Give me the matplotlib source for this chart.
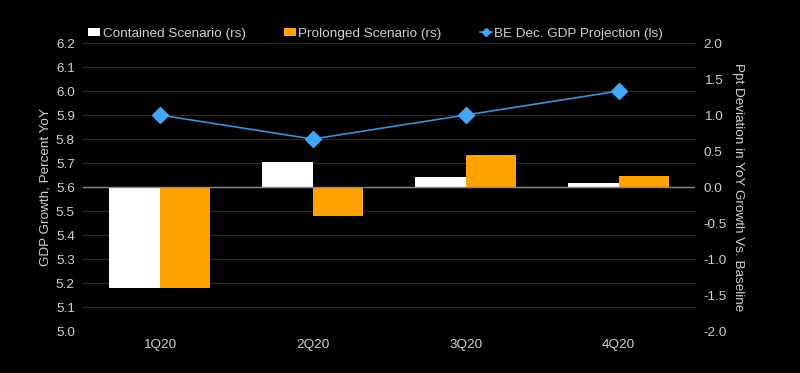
import matplotlib
matplotlib.use("Agg")
import matplotlib.pyplot as plt
import numpy as np
from matplotlib.lines import Line2D
from matplotlib.patches import Patch

plt.rcParams["font.family"] = ["Liberation Sans", "DejaVu Sans"]

quarters = ["1Q20", "2Q20", "3Q20", "4Q20"]
contained = [-1.40, 0.35, 0.14, 0.06]
prolonged = [-1.40, -0.40, 0.44, 0.15]
projection = [5.9, 5.8, 5.9, 6.0]

left_ticks = [5.0, 5.1, 5.2, 5.3, 5.4, 5.5, 5.6, 5.7, 5.8, 5.9, 6.0, 6.1, 6.2]
right_ticks = [-2.0, -1.5, -1.0, -0.5, 0.0, 0.5, 1.0, 1.5, 2.0]

bg = "#000000"
text_color = "#cfcfcf"
grid_color = "#2a2a2a"
orange = "#ffa200"
blue_marker = "#42a5f5"
blue_line = "#3d8fd6"

fig = plt.figure(figsize=(8, 3.73), dpi=100, facecolor=bg)
ax = fig.add_axes([0.104, 0.1126, 0.765, 0.772])
ax2 = ax.twinx()
ax.set_facecolor(bg)

x = np.arange(len(quarters))
width = 0.33

# bars on the right axis
ax2.bar(x - width / 2, contained, width, color="white", zorder=2)
ax2.bar(x + width / 2, prolonged, width, color=orange, zorder=2)
ax2.axhline(0, color="#8a8a8a", lw=1.0, zorder=3)
ax2.set_ylim(-2.0, 2.0)
ax2.set_yticks(right_ticks)
ax2.set_yticklabels([f"{t:.1f}" for t in right_ticks])

# line on the left axis, drawn above the bars
ax.set_zorder(ax2.get_zorder() + 1)
ax.patch.set_visible(False)
ax.plot(x, projection, color=blue_line, lw=1.2, marker="D", markersize=8,
        markerfacecolor=blue_marker, markeredgecolor=blue_marker, zorder=4)
ax.set_ylim(5.0, 6.2)
ax.set_yticks(left_ticks)
ax.set_yticklabels([f"{t:.1f}" for t in left_ticks])
ax.set_xlim(-0.5, len(quarters) - 0.5)
ax.set_xticks(x)
ax.set_xticklabels(quarters)

for t in left_ticks:
    ax2.axhline(-2.0 + (t - 5.0) / 0.3, color=grid_color, lw=0.8, zorder=1)

for a in (ax, ax2):
    for s in a.spines.values():
        s.set_visible(False)
    a.tick_params(colors=text_color, labelsize=9.7, length=0, pad=6)

ax.set_ylabel("GDP Growth, Percent YoY", color=text_color, fontsize=9.7, labelpad=3)
ax2.set_ylabel("Ppt Deviation in YoY Growth Vs. Baseline", color=text_color,
               fontsize=9.7, rotation=-90, labelpad=12)

handles = [
    Patch(facecolor="white", edgecolor="none"),
    Patch(facecolor=orange, edgecolor="none"),
    Line2D([0], [0], color=blue_line, lw=1.2, marker="D", markersize=4,
           markerfacecolor=blue_marker, markeredgecolor=blue_marker),
]
labels = ["Contained Scenario (rs)", "Prolonged Scenario (rs)",
          "BE Dec. GDP Projection (ls)"]
leg = fig.legend(handles, labels, loc="upper left", bbox_to_anchor=(0.095, 0.958),
                 ncol=3, frameon=False, fontsize=9.7, handlelength=0.9,
                 handleheight=0.6, handletextpad=0.2, columnspacing=2.8,
                 labelcolor=text_color)

fig.savefig("out.png", dpi=100, facecolor=bg)
